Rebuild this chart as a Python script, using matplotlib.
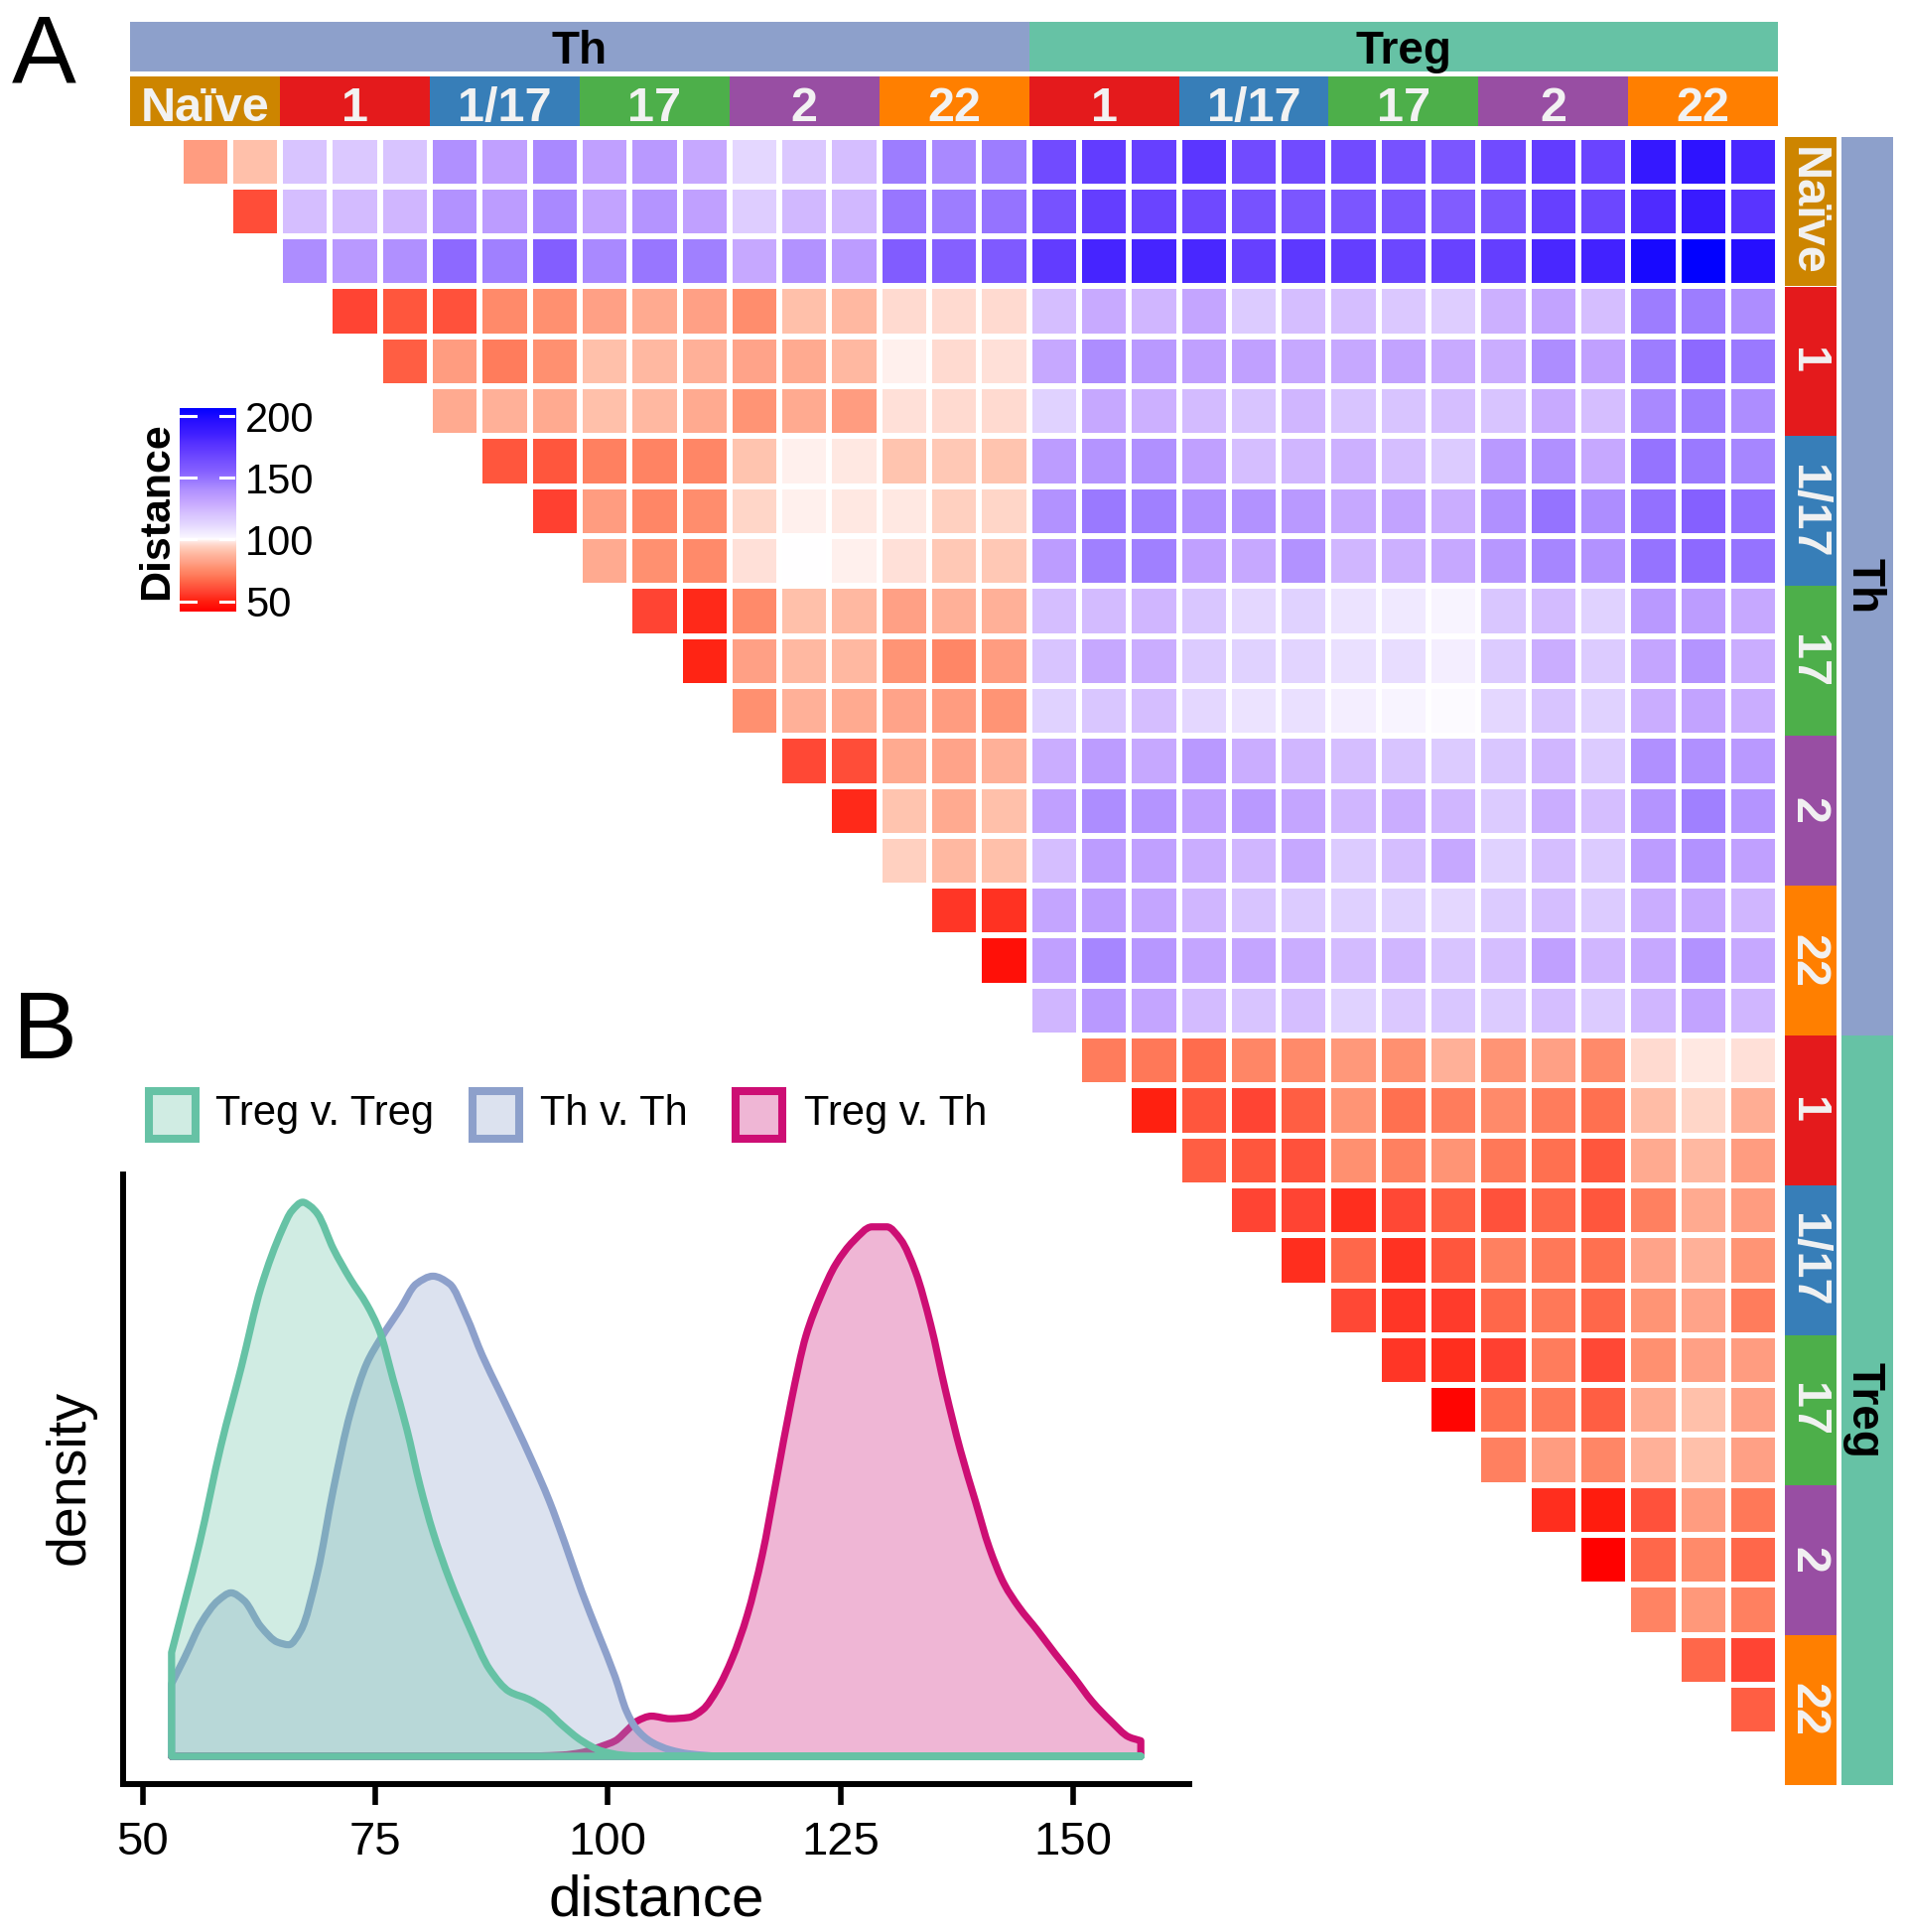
import numpy as np
import matplotlib
matplotlib.use("Agg")
import matplotlib.pyplot as plt
from matplotlib.colors import LinearSegmentedColormap, TwoSlopeNorm, to_rgba
from matplotlib.patches import Rectangle, PathPatch
from matplotlib.path import Path

plt.rcParams['font.family'] = ['Liberation Sans', 'DejaVu Sans']

# ---------------------------------------------------------------- data
subset_labels = ["Naïve", "1", "1/17", "17", "2", "22", "1", "1/17", "17", "2", "22"]
subset_colors = ["#CD8500", "#E41A1C", "#377EB8", "#4DAF4A", "#984EA3", "#FF7F00",
                 "#E41A1C", "#377EB8", "#4DAF4A", "#984EA3", "#FF7F00"]
replicates = [3, 3, 3, 3, 3, 3, 3, 3, 3, 3, 3]
group_labels = ["Th", "Treg"]
group_sizes = [18, 15]
group_colors = ["#8DA0CB", "#66C2A5"]

# upper triangle of the distance matrix, row i holds columns i+1 .. 32
dist_rows = [
    [80, 90, 120, 118, 120, 140, 133, 142, 133, 136, 130, 112, 118, 122, 146, 142, 146,
     165, 172, 170, 175, 165, 165, 165, 162, 160, 165, 172, 168, 190, 193, 182],
    [60, 122, 123, 125, 139, 135, 142, 132, 138, 133, 116, 124, 124, 148, 146, 149,
     162, 171, 168, 166, 162, 160, 160, 160, 157, 160, 170, 167, 180, 188, 176],
    [141, 136, 140, 152, 145, 156, 142, 148, 145, 130, 139, 135, 157, 155, 158,
     172, 183, 183, 182, 170, 174, 171, 167, 169, 171, 182, 184, 200, 206, 196],
    [58, 62, 61, 75, 77, 81, 84, 81, 76, 90, 88, 96, 96, 96,
     122, 129, 125, 131, 117, 122, 122, 118, 116, 127, 132, 122, 146, 146, 141],
    [64, 80, 71, 77, 90, 88, 86, 82, 84, 88, 99, 96, 97,
     130, 141, 136, 133, 133, 130, 130, 132, 129, 128, 141, 133, 146, 152, 147],
    [84, 86, 84, 90, 88, 84, 78, 84, 80, 97, 96, 96,
     114, 130, 127, 123, 120, 125, 120, 120, 122, 120, 129, 122, 142, 146, 141],
    [62, 62, 72, 73, 74, 91, 99, 98, 91, 92, 91,
     135, 138, 140, 133, 122, 125, 127, 122, 117, 136, 140, 130, 149, 147, 143],
    [57, 80, 74, 76, 95, 99, 98, 98, 94, 95,
     139, 147, 145, 140, 139, 136, 130, 132, 128, 140, 149, 141, 150, 155, 150],
    [84, 77, 75, 97, 100, 99, 97, 92, 92,
     135, 145, 145, 133, 130, 139, 125, 127, 130, 137, 143, 139, 149, 152, 149],
    [58, 52, 75, 90, 88, 81, 86, 86,
     122, 123, 125, 119, 112, 114, 108, 106, 102, 119, 123, 114, 136, 135, 130],
    [51, 81, 88, 88, 78, 74, 80,
     120, 130, 128, 117, 114, 113, 109, 110, 104, 117, 128, 117, 131, 138, 128],
    [77, 86, 84, 82, 80, 78,
     114, 119, 122, 112, 108, 109, 104, 102, 101, 112, 120, 114, 128, 132, 128],
    [59, 60, 84, 82, 86,
     128, 135, 130, 136, 128, 125, 122, 120, 117, 119, 125, 117, 140, 140, 136],
    [52, 91, 84, 90,
     133, 141, 138, 133, 136, 131, 125, 128, 125, 117, 128, 122, 138, 145, 138],
    [94, 88, 90,
     122, 135, 133, 128, 125, 130, 117, 122, 130, 114, 122, 117, 135, 139, 133],
    [55, 54,
     131, 134, 131, 125, 120, 117, 115, 114, 112, 117, 122, 117, 128, 130, 125],
    [46,
     133, 143, 137, 131, 131, 128, 123, 125, 120, 122, 133, 125, 130, 139, 130],
    [125, 136, 131, 123, 120, 122, 114, 118, 119, 117, 122, 117, 125, 132, 125],
    [71, 70, 67, 74, 75, 79, 77, 86, 78, 81, 75, 96, 98, 97],
    [50, 62, 58, 64, 78, 68, 71, 75, 71, 68, 89, 95, 85],
    [64, 62, 61, 77, 72, 78, 70, 68, 62, 84, 88, 80],
    [58, 58, 53, 59, 64, 61, 66, 62, 72, 84, 80],
    [53, 66, 54, 62, 72, 70, 68, 82, 86, 78],
    [59, 55, 56, 66, 70, 66, 78, 82, 71],
    [55, 53, 57, 71, 59, 77, 81, 80],
    [43, 68, 70, 64, 84, 90, 81],
    [72, 80, 74, 86, 90, 81],
    [53, 49, 61, 80, 70],
    [42, 66, 75, 66],
    [73, 79, 72],
    [66, 58],
    [64],
]

dist_min, dist_mid, dist_max = 41.7, 100.0, 206.7
cbar_ticks = [50, 100, 150, 200]

scale_values = [41.7, 50, 57, 63, 68, 72, 77, 81, 86, 90, 94, 97, 99, 100,
                102, 107, 113, 120, 127, 133, 140, 145, 155, 163, 170, 178, 185, 195, 206.7]
scale_colors = ["#FF0000", "#FF2010", "#FF4030", "#FF5A40", "#FF7050", "#FF8060", "#FF9070",
                "#FFA085", "#FFB098", "#FFC0AA", "#FFD0C0", "#FFE0D8", "#FFF0EC", "#FFFFFF",
                "#F8F4FF", "#EEE6FF", "#E2D4FF", "#D8C4FF", "#CCB0FF", "#C0A0FF", "#B090FF",
                "#A080FF", "#8560FF", "#7550FF", "#6640FF", "#5530FF", "#4020FF", "#2A10FF",
                "#0000FF"]

# density curves
dens_x_treg = [53.1, 56.1, 58.4, 60.6, 62.7, 65.0, 66.0, 67.2, 68.0, 68.8, 70.5, 72.3, 74.1,
               75.5, 76.9, 78.4, 79.8, 81.2, 83.0, 85.1, 87.3, 89.4, 91.5, 93.3, 95.1, 97.2,
               99.4, 101.5, 104.0, 157.3]
dens_y_treg = [0.0080, 0.0164, 0.0239, 0.0300, 0.0361, 0.0406, 0.0420, 0.0427, 0.0424, 0.0418,
               0.0391, 0.0368, 0.0348, 0.0327, 0.0291, 0.0252, 0.0209, 0.0173, 0.0136, 0.0100,
               0.0067, 0.0050, 0.0044, 0.0036, 0.0024, 0.0012, 0.0004, 0.0001, 0.0, 0.0]
dens_x_th = [53.1, 54.5, 56.3, 58.1, 59.5, 60.9, 62.7, 64.5, 65.7, 67.0, 68.8, 70.5, 72.3, 74.1,
             75.5, 77.7, 79.4, 81.2, 83.0, 84.8, 86.5, 88.3, 90.1, 91.9, 93.7, 95.4, 97.2, 99.0,
             100.8, 102.0, 103.1, 104.7, 106.7, 108.7, 112.6, 157.3]
dens_y_th = [0.0056, 0.0076, 0.0103, 0.0120, 0.0126, 0.0120, 0.0100, 0.0088, 0.0086, 0.0097,
             0.0142, 0.0206, 0.0264, 0.0303, 0.0321, 0.0345, 0.0364, 0.0370, 0.0364, 0.0339,
             0.0309, 0.0282, 0.0255, 0.0227, 0.0197, 0.0164, 0.0127, 0.0094, 0.0061, 0.0035,
             0.0021, 0.0011, 0.0005, 0.0002, 0.0, 0.0]
dens_x_cross = [53.1, 90.0, 95.1, 97.2, 99.4, 100.8, 102.2, 103.1, 104.7, 106.7, 108.7, 110.2,
                111.8, 113.4, 115.0, 116.6, 118.1, 119.7, 121.3, 122.9, 124.5, 126.4, 128.4,
                130.0, 131.5, 133.1, 134.7, 136.3, 137.9, 139.5, 141.0, 142.6, 144.2, 146.2,
                148.1, 150.1, 152.1, 154.1, 156.0, 157.3]
dens_y_cross = [0.0, 0.0, 0.0001, 0.0003, 0.0008, 0.0012, 0.0021, 0.0027, 0.0031, 0.0029,
                0.0030, 0.0036, 0.0052, 0.0076, 0.0109, 0.0155, 0.0212, 0.0273, 0.0324, 0.0355,
                0.0379, 0.0397, 0.0408, 0.0408, 0.0398, 0.0373, 0.0333, 0.0282, 0.0236, 0.0197,
                0.0161, 0.0133, 0.0115, 0.0097, 0.0079, 0.0061, 0.0042, 0.0027, 0.0015, 0.0012]
density_labels = ["Treg v. Treg", "Th v. Th", "Treg v. Th"]
density_colors = ["#66C2A5", "#8DA0CB", "#CD0E74"]
x_ticks = [50, 75, 100, 125, 150]

# ---------------------------------------------------------------- colour map
norm = TwoSlopeNorm(vmin=dist_min, vcenter=dist_mid, vmax=dist_max)
positions = np.clip(np.asarray(norm(np.array(scale_values, float))), 0, 1)
positions[0], positions[-1] = 0.0, 1.0
cmap = LinearSegmentedColormap.from_list("dist", list(zip(positions, scale_colors)), N=1024)

# ---------------------------------------------------------------- matrix
n = sum(replicates)
mat = np.full((n, n), np.nan)
for i, row in enumerate(dist_rows):
    mat[i, i + 1:i + 1 + len(row)] = row

# ---------------------------------------------------------------- figure
W, H, DPI = 1920, 1946, 100
fig = plt.figure(figsize=(W / DPI, H / DPI), dpi=DPI)


def box(x0, y0, x1, y1):
    return [x0 / W, 1 - y1 / H, (x1 - x0) / W, (y1 - y0) / H]


def ftext(x, y, s, **kw):
    return fig.text(x / W, 1 - y / H, s, **kw)


HM_L, HM_T, HM_R, HM_B = 131.2, 137.6, 1791.1, 1797.5
ax = fig.add_axes(box(HM_L, HM_T, HM_R, HM_B))
ax.pcolormesh(np.arange(n + 1), np.arange(n + 1), np.ma.masked_invalid(mat), cmap=cmap,
              norm=norm, edgecolors="white", linewidth=4.2)
ax.set_xlim(0, n)
ax.set_ylim(n, 0)
ax.axis("off")

starts = np.concatenate([[0], np.cumsum(replicates)[:-1]])
gstarts = np.concatenate([[0], np.cumsum(group_sizes)[:-1]])

# top annotation bars
axt = fig.add_axes(box(HM_L, 21.7, HM_R, 127.3))
axt.set_xlim(0, n)
axt.set_ylim(105.6, 0)
axt.axis("off")
axt.barh([80.3] * len(replicates), replicates, left=starts, height=50.6, color=subset_colors,
         linewidth=0)
axt.barh([25.0] * len(group_sizes), group_sizes, left=gstarts, height=50, color=group_colors,
         linewidth=0)
for s, w, lab in zip(starts, replicates, subset_labels):
    axt.text(s + w / 2, 100.0, lab, ha="center", va="baseline", color="#F2F2F2",
             fontsize=35, fontweight="bold")
for s, w, lab in zip(gstarts, group_sizes, group_labels):
    axt.text(s + w / 2, 41.8, lab, ha="center", va="baseline", color="black",
             fontsize=33, fontweight="bold")

# right annotation bars
axr = fig.add_axes(box(1798.3, HM_T, 1906.7, HM_B))
axr.set_xlim(0, 108.4)
axr.set_ylim(n, 0)
axr.axis("off")
axr.bar([25.85] * len(replicates), replicates, bottom=starts, width=51.7, color=subset_colors,
        linewidth=0)
axr.bar([82.55] * len(group_sizes), group_sizes, bottom=gstarts, width=51.7, color=group_colors,
        linewidth=0)
for s, w, lab in zip(starts, replicates, subset_labels):
    axr.text(9.7, s + w / 2, lab, ha="center", va="baseline", rotation=270,
             rotation_mode="anchor", color="#F2F2F2", fontsize=35, fontweight="bold")
for s, w, lab in zip(gstarts, group_sizes, group_labels):
    axr.text(66.7, s + w / 2, lab, ha="center", va="baseline", rotation=270,
             rotation_mode="anchor", color="black", fontsize=33, fontweight="bold")

# colour bar
cax = fig.add_axes(box(181, 410.7, 237.3, 616))
grad = np.linspace(dist_min, dist_max, 600)[:, None]
cax.imshow(grad, aspect="auto", origin="lower", extent=[0, 1, dist_min, dist_max],
           cmap=cmap, norm=norm, interpolation="bilinear")
cax.set_xlim(0, 1)
cax.set_ylim(dist_min, dist_max)
for sp in cax.spines.values():
    sp.set_visible(False)
cax.set_xticks([])
cax.yaxis.tick_right()
cax.set_yticks(cbar_ticks)
cax.tick_params(axis="y", length=0, labelsize=30, pad=7)
for v in cbar_ticks:
    cax.axhline(v, xmin=0, xmax=0.28, color="white", lw=2.2)
    cax.axhline(v, xmin=0.72, xmax=1, color="white", lw=2.2)
ftext(158, 515, "Distance", rotation=90, ha="center", va="center", fontsize=31,
      fontweight="bold")

# panel letters
ftext(44, 82.7, "A", ha="center", va="baseline", fontsize=70)
ftext(45.5, 1066, "B", ha="center", va="baseline", fontsize=70)


# density panel ------------------------------------------------------------
def hermite_path(xs, ys):
    """Closed outline (baseline + smooth monotone cubic through the read points)."""
    x = np.asarray(xs, float)
    y = np.asarray(ys, float)
    h = np.diff(x)
    d = np.diff(y) / h
    m = np.zeros_like(y)
    m[0], m[-1] = d[0], d[-1]
    for k in range(1, len(x) - 1):
        if d[k - 1] * d[k] > 0:
            w1 = 2 * h[k] + h[k - 1]
            w2 = h[k] + 2 * h[k - 1]
            m[k] = (w1 + w2) / (w1 / d[k - 1] + w2 / d[k])
    verts = [(x[0], 0.0), (x[0], y[0])]
    codes = [Path.MOVETO, Path.LINETO]
    for k in range(len(x) - 1):
        verts += [(x[k] + h[k] / 3, y[k] + m[k] * h[k] / 3),
                  (x[k + 1] - h[k] / 3, y[k + 1] - m[k + 1] * h[k] / 3),
                  (x[k + 1], y[k + 1])]
        codes += [Path.CURVE4] * 3
    verts += [(x[-1], 0.0), (x[0], 0.0)]
    codes += [Path.LINETO, Path.CLOSEPOLY]
    return Path(verts, codes)


axd = fig.add_axes(box(124, 1183, 1198, 1797))
axd.set_zorder(5)
axd.patch.set_alpha(0)
series = [(dens_x_cross, dens_y_cross, density_colors[2]),
          (dens_x_th, dens_y_th, density_colors[1]),
          (dens_x_treg, dens_y_treg, density_colors[0])]
for xs, ys, c in series:
    axd.add_patch(PathPatch(hermite_path(xs, ys), facecolor=to_rgba(c, 0.3), edgecolor=c,
                            linewidth=5.2, joinstyle="round"))
all_x = dens_x_treg + dens_x_th + dens_x_cross
all_y = dens_y_treg + dens_y_th + dens_y_cross
x0, x1 = min(all_x), max(all_x)
ymax = max(all_y)
axd.set_xlim(x0 - 0.05 * (x1 - x0), x1 + 0.05 * (x1 - x0))
axd.set_ylim(-0.05 * ymax, 1.05 * ymax)
axd.spines["top"].set_visible(False)
axd.spines["right"].set_visible(False)
axd.spines["left"].set_linewidth(4.3)
axd.spines["bottom"].set_linewidth(4.3)
axd.set_yticks([])
axd.set_xticks(x_ticks)
axd.tick_params(axis="x", length=15, width=4, labelsize=34, pad=12)
ftext(661, 1915, "distance", ha="center", va="center", fontsize=42)
ftext(71, 1488, "density", ha="center", va="center", rotation=90, fontsize=40)

# legend
key_x = [146, 472, 737]
txt_x = [217, 544.5, 810]
for kx, tx, lab, c in zip(key_x, txt_x, density_labels, density_colors):
    fig.add_artist(Rectangle(((kx + 4) / W, 1 - 1146.7 / H), 46.6 / W, 47.7 / H,
                             transform=fig.transFigure,
                             facecolor=to_rgba(c, 0.3), edgecolor=c, linewidth=5.8))
    ftext(tx, 1133.3, lab, ha="left", va="baseline", fontsize=30)

fig.savefig("out.png", dpi=DPI)
